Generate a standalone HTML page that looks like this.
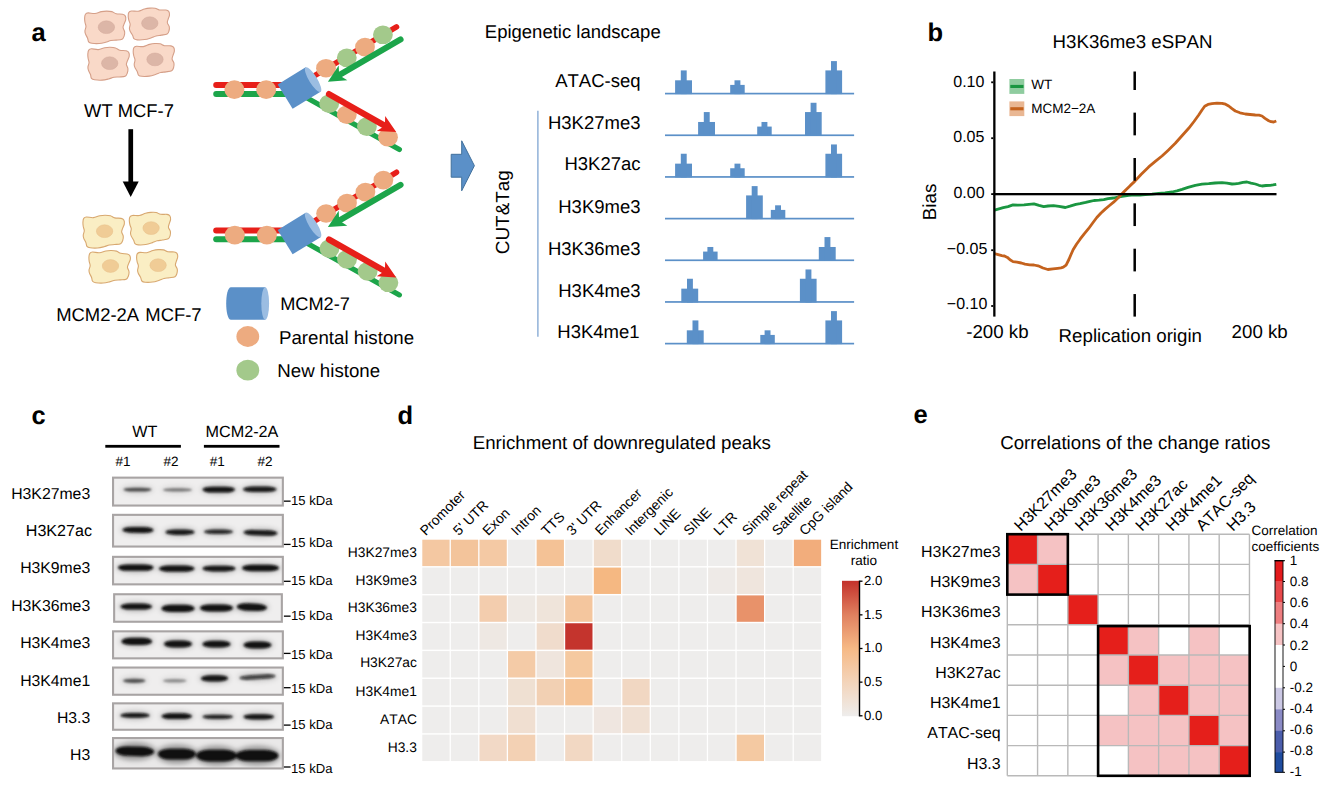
<!DOCTYPE html>
<html lang="en">
<head>
<meta charset="utf-8">
<title>Figure</title>
<style>
html,body{margin:0;padding:0;background:#fff;}
body{width:1323px;height:787px;overflow:hidden;font-family:"Liberation Sans",sans-serif;}
svg{display:block;}
svg text{font-family:"Liberation Sans",sans-serif;font-kerning:none;text-rendering:geometricPrecision;}
</style>
</head>
<body>
<svg width="1323" height="787" viewBox="0 0 1323 787">
<defs>
<filter id="bl" x="-5%" y="-50%" width="110%" height="200%"><feGaussianBlur stdDeviation="1.25"/></filter>
<filter id="bl2" x="-5%" y="-50%" width="110%" height="200%"><feGaussianBlur stdDeviation="2.6"/></filter>
<linearGradient id="gd" x1="0" y1="0" x2="0" y2="1">
<stop offset="0" stop-color="#c3312b"/>
<stop offset="0.25" stop-color="#e0805f"/>
<stop offset="0.5" stop-color="#f6b985"/>
<stop offset="0.75" stop-color="#f3d4ba"/>
<stop offset="1" stop-color="#eeedec"/>
</linearGradient>
<clipPath id="cl0"><rect x="113.9" y="478.50" width="168.1" height="26.20"/></clipPath>
<clipPath id="cl1"><rect x="113.9" y="515.70" width="168.1" height="30.00"/></clipPath>
<clipPath id="cl2"><rect x="113.9" y="557.70" width="168.1" height="25.80"/></clipPath>
<clipPath id="cl3"><rect x="113.9" y="595.10" width="168.1" height="25.80"/></clipPath>
<clipPath id="cl4"><rect x="113.9" y="632.20" width="168.1" height="25.30"/></clipPath>
<clipPath id="cl5"><rect x="113.9" y="668.40" width="168.1" height="25.50"/></clipPath>
<clipPath id="cl6"><rect x="113.9" y="704.20" width="168.1" height="24.70"/></clipPath>
<clipPath id="cl7"><rect x="113.9" y="738.90" width="168.1" height="28.70"/></clipPath>

</defs>
<rect width="1323" height="787" fill="#fff"/>
<g id="pa">
<text x="31.60" y="40.90" font-size="25.5" font-weight="bold" fill="#000">a</text>
<text x="927.40" y="40.90" font-size="25.5" font-weight="bold" fill="#000">b</text>
<text x="31.60" y="423.70" font-size="25.5" font-weight="bold" fill="#000">c</text>
<text x="397.50" y="423.60" font-size="25.5" font-weight="bold" fill="#000">d</text>
<text x="913.60" y="423.10" font-size="25.5" font-weight="bold" fill="#000">e</text>
<path d="M85.45,14.26C86.03,13.42 86.55,13.03 88.13,12.91C89.72,12.79 92.75,13.75 94.95,13.54C97.15,13.32 99.41,12.03 101.36,11.63C103.30,11.22 104.89,11.10 106.64,11.10C108.40,11.10 110.30,11.19 111.89,11.63C113.48,12.07 114.41,13.30 116.19,13.74C117.97,14.18 121.05,13.91 122.55,14.26C124.06,14.62 124.67,14.99 125.20,15.88C125.73,16.77 125.92,18.27 125.74,19.60C125.56,20.93 124.57,22.52 124.12,23.85C123.68,25.18 122.96,26.25 123.05,27.57C123.14,28.90 124.48,30.41 124.66,31.82C124.84,33.24 124.57,34.83 124.12,36.08C123.68,37.32 123.34,38.60 122.02,39.27C120.69,39.94 118.04,39.89 116.19,40.09C114.34,40.30 112.66,40.17 110.90,40.52C109.14,40.88 107.55,41.74 105.61,42.24C103.67,42.74 101.55,43.35 99.25,43.52C96.95,43.70 93.58,43.56 91.81,43.29C90.04,43.02 89.33,42.76 88.63,41.91C87.93,41.06 88.12,39.51 87.59,38.18C87.06,36.85 85.89,35.17 85.45,33.93C85.00,32.69 84.86,31.98 84.95,30.74C85.04,29.50 85.98,27.90 85.98,26.49C85.98,25.07 85.18,23.65 84.95,22.24C84.72,20.82 84.54,19.32 84.62,17.99C84.70,16.66 84.86,15.11 85.45,14.26Z" fill="#f9d9c8" stroke="#d59f88" stroke-width="1.1" stroke-linejoin="round"/>
<ellipse cx="106.4" cy="27.2" rx="8.2" ry="6.4" fill="#dcb6a7" stroke="#d3a99a" stroke-width="0.5"/>
<path d="M128.77,12.53C129.30,11.68 129.79,11.28 131.36,11.06C132.94,10.84 136.04,11.55 138.23,11.20C140.43,10.85 142.59,9.46 144.52,8.95C146.44,8.43 148.02,8.21 149.77,8.09C151.53,7.97 153.44,7.93 155.07,8.24C156.69,8.55 157.71,9.67 159.52,9.97C161.33,10.27 164.40,9.80 165.93,10.04C167.45,10.28 168.09,10.59 168.69,11.41C169.28,12.22 169.57,13.65 169.49,14.93C169.40,16.21 168.52,17.80 168.17,19.10C167.81,20.40 167.17,21.46 167.35,22.73C167.53,23.99 168.98,25.34 169.26,26.68C169.54,28.02 169.38,29.56 169.02,30.78C168.67,31.99 168.41,33.24 167.13,33.97C165.86,34.70 163.20,34.83 161.36,35.15C159.52,35.47 157.83,35.46 156.09,35.91C154.35,36.37 152.82,37.30 150.91,37.91C149.00,38.51 146.92,39.24 144.63,39.56C142.34,39.88 138.96,39.98 137.17,39.84C135.38,39.70 134.65,39.50 133.88,38.73C133.12,37.96 133.21,36.48 132.59,35.24C131.97,34.01 130.67,32.48 130.14,31.32C129.61,30.17 129.42,29.50 129.42,28.30C129.42,27.11 130.26,25.53 130.16,24.17C130.06,22.82 129.15,21.52 128.83,20.18C128.50,18.84 128.21,17.42 128.20,16.14C128.19,14.87 128.24,13.38 128.77,12.53Z" fill="#f9d9c8" stroke="#d59f88" stroke-width="1.1" stroke-linejoin="round"/>
<ellipse cx="149.8" cy="23.2" rx="8.2" ry="6.4" fill="#dcb6a7" stroke="#d3a99a" stroke-width="0.5"/>
<path d="M88.73,50.15C89.34,49.30 89.86,48.91 91.46,48.82C93.06,48.72 96.09,49.76 98.32,49.58C100.54,49.40 102.83,48.13 104.80,47.75C106.77,47.37 108.37,47.27 110.14,47.31C111.91,47.34 113.82,47.46 115.41,47.94C117.01,48.41 117.92,49.68 119.70,50.16C121.49,50.64 124.60,50.42 126.10,50.81C127.61,51.20 128.22,51.58 128.74,52.50C129.26,53.41 129.42,54.94 129.21,56.29C129.01,57.64 127.99,59.24 127.52,60.59C127.04,61.93 126.30,63.00 126.37,64.36C126.44,65.71 127.76,67.27 127.92,68.71C128.07,70.15 127.77,71.77 127.30,73.02C126.84,74.28 126.47,75.58 125.12,76.24C123.78,76.90 121.11,76.79 119.24,76.97C117.37,77.15 115.69,76.98 113.91,77.31C112.13,77.65 110.52,78.49 108.55,78.96C106.59,79.44 104.44,80.02 102.12,80.16C99.80,80.29 96.41,80.09 94.63,79.79C92.85,79.48 92.14,79.20 91.45,78.32C90.76,77.45 90.99,75.88 90.48,74.52C89.97,73.16 88.81,71.43 88.39,70.16C87.96,68.89 87.83,68.16 87.94,66.90C88.06,65.64 89.03,64.03 89.06,62.59C89.08,61.15 88.30,59.69 88.09,58.25C87.89,56.80 87.73,55.27 87.83,53.92C87.94,52.57 88.13,51.00 88.73,50.15Z" fill="#f9d9c8" stroke="#d59f88" stroke-width="1.1" stroke-linejoin="round"/>
<ellipse cx="109.7" cy="63.2" rx="8.2" ry="6.4" fill="#dcb6a7" stroke="#d3a99a" stroke-width="0.5"/>
<path d="M133.83,47.80C134.37,46.93 134.87,46.52 136.45,46.32C138.02,46.12 141.10,46.91 143.29,46.59C145.48,46.26 147.67,44.86 149.59,44.35C151.52,43.85 153.10,43.65 154.85,43.55C156.61,43.46 158.51,43.45 160.13,43.80C161.74,44.16 162.73,45.33 164.53,45.67C166.33,46.02 169.40,45.59 170.92,45.86C172.44,46.14 173.07,46.47 173.65,47.33C174.22,48.19 174.49,49.67 174.38,51.00C174.27,52.33 173.37,53.96 172.99,55.30C172.61,56.65 171.95,57.74 172.11,59.06C172.27,60.37 173.69,61.80 173.94,63.19C174.20,64.59 174.00,66.19 173.63,67.44C173.25,68.70 172.97,69.99 171.69,70.73C170.40,71.46 167.75,71.55 165.91,71.85C164.07,72.15 162.39,72.10 160.64,72.55C158.90,73.00 157.36,73.93 155.45,74.53C153.53,75.13 151.44,75.84 149.15,76.14C146.86,76.43 143.49,76.47 141.71,76.30C139.92,76.12 139.20,75.90 138.46,75.09C137.71,74.28 137.83,72.74 137.23,71.44C136.63,70.15 135.36,68.54 134.86,67.34C134.35,66.13 134.17,65.42 134.20,64.19C134.22,62.95 135.08,61.32 135.01,59.91C134.93,58.51 134.05,57.14 133.75,55.75C133.45,54.35 133.19,52.87 133.20,51.54C133.21,50.22 133.29,48.67 133.83,47.80Z" fill="#f9d9c8" stroke="#d59f88" stroke-width="1.1" stroke-linejoin="round"/>
<ellipse cx="155.0" cy="59.4" rx="8.2" ry="6.4" fill="#dcb6a7" stroke="#d3a99a" stroke-width="0.5"/>
<path d="M83.75,218.40C84.34,217.55 84.86,217.16 86.46,217.03C88.05,216.91 91.11,217.89 93.33,217.67C95.55,217.45 97.81,216.15 99.78,215.73C101.74,215.32 103.34,215.20 105.11,215.20C106.87,215.20 108.79,215.29 110.39,215.73C111.99,216.18 112.93,217.42 114.72,217.87C116.51,218.31 119.62,218.04 121.13,218.40C122.64,218.76 123.26,219.14 123.79,220.04C124.33,220.94 124.52,222.46 124.34,223.81C124.16,225.15 123.16,226.76 122.71,228.11C122.26,229.45 121.54,230.53 121.63,231.88C121.72,233.22 123.07,234.75 123.25,236.18C123.43,237.61 123.16,239.23 122.71,240.48C122.27,241.74 121.92,243.04 120.59,243.72C119.26,244.40 116.59,244.34 114.72,244.55C112.85,244.76 111.17,244.62 109.39,244.99C107.62,245.35 106.02,246.21 104.06,246.72C102.11,247.23 99.97,247.84 97.65,248.02C95.34,248.20 91.94,248.06 90.16,247.79C88.38,247.51 87.66,247.25 86.96,246.39C86.25,245.52 86.45,243.96 85.92,242.62C85.38,241.27 84.20,239.57 83.75,238.31C83.31,237.06 83.16,236.34 83.25,235.08C83.34,233.82 84.29,232.21 84.29,230.78C84.29,229.34 83.48,227.91 83.25,226.47C83.02,225.04 82.84,223.52 82.92,222.17C83.00,220.83 83.16,219.26 83.75,218.40Z" fill="#faeec4" stroke="#d8a870" stroke-width="1.1" stroke-linejoin="round"/>
<ellipse cx="104.6" cy="231.2" rx="8.2" ry="6.4" fill="#f0cc96" stroke="#e6bf88" stroke-width="0.5"/>
<path d="M129.87,216.93C130.40,216.06 130.89,215.65 132.46,215.43C134.04,215.20 137.14,215.93 139.33,215.57C141.53,215.21 143.69,213.80 145.62,213.27C147.54,212.74 149.12,212.51 150.87,212.39C152.63,212.27 154.54,212.22 156.17,212.54C157.79,212.86 158.81,214.00 160.62,214.31C162.43,214.62 165.50,214.14 167.03,214.39C168.55,214.63 169.19,214.95 169.79,215.78C170.38,216.62 170.67,218.07 170.59,219.38C170.50,220.69 169.62,222.31 169.27,223.64C168.91,224.97 168.27,226.06 168.45,227.35C168.63,228.64 170.08,230.02 170.36,231.39C170.64,232.76 170.48,234.34 170.12,235.58C169.77,236.82 169.51,238.10 168.23,238.84C166.96,239.59 164.30,239.72 162.46,240.05C160.62,240.38 158.93,240.36 157.19,240.83C155.45,241.30 153.92,242.24 152.01,242.86C150.10,243.48 148.02,244.22 145.73,244.55C143.44,244.88 140.06,244.98 138.27,244.84C136.48,244.70 135.75,244.49 134.98,243.70C134.22,242.92 134.31,241.40 133.69,240.14C133.07,238.88 131.77,237.32 131.24,236.14C130.71,234.95 130.52,234.27 130.52,233.05C130.52,231.83 131.36,230.21 131.26,228.83C131.16,227.45 130.25,226.12 129.93,224.75C129.60,223.38 129.31,221.92 129.30,220.62C129.29,219.32 129.34,217.80 129.87,216.93Z" fill="#faeec4" stroke="#d8a870" stroke-width="1.1" stroke-linejoin="round"/>
<ellipse cx="151.1" cy="228.1" rx="8.2" ry="6.4" fill="#f0cc96" stroke="#e6bf88" stroke-width="0.5"/>
<path d="M89.83,253.32C90.44,252.48 90.96,252.10 92.56,252.01C94.16,251.91 97.19,252.93 99.42,252.76C101.64,252.58 103.93,251.32 105.90,250.94C107.87,250.57 109.47,250.47 111.24,250.51C113.01,250.54 114.92,250.66 116.51,251.13C118.11,251.60 119.02,252.86 120.80,253.33C122.59,253.81 125.70,253.59 127.20,253.97C128.71,254.36 129.32,254.74 129.84,255.65C130.36,256.55 130.52,258.07 130.31,259.41C130.11,260.75 129.09,262.34 128.62,263.67C128.14,265.00 127.40,266.06 127.47,267.40C127.54,268.74 128.86,270.28 129.02,271.71C129.17,273.15 128.87,274.75 128.40,275.99C127.94,277.23 127.57,278.52 126.22,279.17C124.88,279.83 122.21,279.72 120.34,279.90C118.47,280.08 116.79,279.91 115.01,280.24C113.23,280.57 111.62,281.40 109.65,281.87C107.69,282.34 105.54,282.92 103.22,283.06C100.90,283.19 97.51,283.00 95.73,282.69C93.95,282.39 93.24,282.11 92.55,281.24C91.86,280.37 92.09,278.82 91.58,277.47C91.07,276.12 89.91,274.41 89.49,273.15C89.06,271.89 88.93,271.17 89.04,269.92C89.16,268.67 90.13,267.08 90.16,265.65C90.18,264.22 89.40,262.78 89.19,261.35C88.99,259.92 88.83,258.40 88.93,257.06C89.04,255.72 89.23,254.16 89.83,253.32Z" fill="#faeec4" stroke="#d8a870" stroke-width="1.1" stroke-linejoin="round"/>
<ellipse cx="110.5" cy="266.0" rx="8.2" ry="6.4" fill="#f0cc96" stroke="#e6bf88" stroke-width="0.5"/>
<path d="M137.23,253.88C137.77,253.01 138.26,252.60 139.84,252.40C141.41,252.20 144.48,252.99 146.67,252.67C148.85,252.34 151.03,250.95 152.95,250.45C154.88,249.95 156.45,249.74 158.20,249.65C159.95,249.56 161.85,249.55 163.46,249.90C165.07,250.25 166.06,251.42 167.86,251.76C169.65,252.10 172.71,251.68 174.23,251.95C175.74,252.22 176.37,252.56 176.95,253.41C177.52,254.26 177.79,255.73 177.68,257.05C177.57,258.37 176.67,260.00 176.29,261.33C175.92,262.67 175.26,263.76 175.42,265.06C175.57,266.37 176.99,267.79 177.24,269.17C177.50,270.56 177.30,272.15 176.93,273.40C176.55,274.65 176.28,275.93 174.99,276.66C173.71,277.39 171.06,277.47 169.23,277.78C167.39,278.08 165.72,278.03 163.98,278.47C162.24,278.92 160.70,279.85 158.79,280.44C156.88,281.03 154.80,281.75 152.52,282.04C150.23,282.33 146.87,282.37 145.09,282.20C143.31,282.02 142.59,281.80 141.84,281.00C141.10,280.19 141.22,278.66 140.62,277.37C140.02,276.09 138.76,274.49 138.25,273.29C137.75,272.09 137.57,271.39 137.59,270.16C137.62,268.93 138.48,267.31 138.40,265.91C138.33,264.51 137.45,263.16 137.15,261.77C136.85,260.38 136.59,258.91 136.60,257.59C136.61,256.28 136.69,254.74 137.23,253.88Z" fill="#faeec4" stroke="#d8a870" stroke-width="1.1" stroke-linejoin="round"/>
<ellipse cx="158.1" cy="265.2" rx="8.2" ry="6.4" fill="#f0cc96" stroke="#e6bf88" stroke-width="0.5"/>
<text x="129.00" y="116.50" font-size="18.4" text-anchor="middle" fill="#000">WT MCF-7</text>
<text x="56.20" y="321.10" font-size="18.45" fill="#000">MCM2-2A</text>
<text x="145.30" y="321.10" font-size="18.45" fill="#000">MCF-7</text>
<rect x="128.4" y="129.2" width="4.7" height="54" fill="#000"/>
<path d="M122.7,181.5L138.7,181.5L130.7,197Z" fill="#000"/>
<g transform="translate(0 0)">
<line x1="216.2" y1="85.0" x2="290" y2="85.0" stroke="#e71f19" stroke-width="6" stroke-linecap="round"/>
<line x1="216.2" y1="93.9" x2="290" y2="93.9" stroke="#1ca54a" stroke-width="6" stroke-linecap="round"/>
<ellipse cx="234.4" cy="89.7" rx="10" ry="9.4" fill="#edab80"/>
<ellipse cx="266.2" cy="89.7" rx="10" ry="9.4" fill="#edab80"/>
<line x1="305" y1="81.3" x2="396.5" y2="26.9" stroke="#e71f19" stroke-width="5.6" stroke-linecap="round"/>
<line x1="300" y1="93.9" x2="399.4" y2="149.5" stroke="#1ca54a" stroke-width="5.2" stroke-linecap="round"/>
<ellipse cx="329.2" cy="103.7" rx="9.9" ry="9.3" fill="#a3c98b"/>
<ellipse cx="346.8" cy="114.7" rx="9.9" ry="9.3" fill="#edab80"/>
<ellipse cx="366.9" cy="126.6" rx="9.9" ry="9.3" fill="#a3c98b"/>
<ellipse cx="388.0" cy="137.3" rx="9.9" ry="9.3" fill="#edab80"/>
<line x1="329.00" y1="94.10" x2="386.62" y2="126.69" stroke="#e71f19" stroke-width="6.2" stroke-linecap="round"/>
<path d="M396.20,132.10L385.20,116.00L384.88,125.70L376.73,130.97Z" fill="#e71f19"/>
<ellipse cx="326.0" cy="68.2" rx="9.9" ry="9.3" fill="#edab80"/>
<ellipse cx="346.8" cy="57.8" rx="9.9" ry="9.3" fill="#a3c98b"/>
<ellipse cx="365.0" cy="47.1" rx="9.9" ry="9.3" fill="#edab80"/>
<ellipse cx="382.9" cy="34.8" rx="9.9" ry="9.3" fill="#a3c98b"/>
<line x1="400.60" y1="39.40" x2="337.41" y2="76.17" stroke="#1ca54a" stroke-width="6.0" stroke-linecap="round"/>
<path d="M327.90,81.70L347.35,80.33L339.14,75.16L338.70,65.47Z" fill="#1ca54a"/>
<g transform="translate(299.3 88.0) rotate(-31.5)">
<path d="M-16.6,-14.3L16.2,-14.3L16.2,14.3L-16.6,14.3Z" fill="#5b90c8"/>
<ellipse cx="16.2" cy="0" rx="4.0" ry="14.3" fill="#9bbde2"/>
</g>
</g>
<g transform="translate(0 145.4)">
<line x1="216.2" y1="85.0" x2="290" y2="85.0" stroke="#e71f19" stroke-width="6" stroke-linecap="round"/>
<line x1="216.2" y1="93.9" x2="290" y2="93.9" stroke="#1ca54a" stroke-width="6" stroke-linecap="round"/>
<ellipse cx="234.8" cy="89.7" rx="10" ry="9.4" fill="#edab80"/>
<ellipse cx="266.9" cy="89.7" rx="10" ry="9.4" fill="#edab80"/>
<line x1="305" y1="81.3" x2="396.5" y2="26.9" stroke="#e71f19" stroke-width="5.6" stroke-linecap="round"/>
<line x1="300" y1="93.9" x2="399.4" y2="149.5" stroke="#1ca54a" stroke-width="5.2" stroke-linecap="round"/>
<ellipse cx="329.5" cy="103.2" rx="9.9" ry="9.3" fill="#a3c98b"/>
<ellipse cx="347.0" cy="114.0" rx="9.9" ry="9.3" fill="#a3c98b"/>
<ellipse cx="367.6" cy="126.0" rx="9.9" ry="9.3" fill="#a3c98b"/>
<ellipse cx="388.4" cy="137.4" rx="9.9" ry="9.3" fill="#a3c98b"/>
<line x1="329.00" y1="94.10" x2="386.62" y2="126.69" stroke="#e71f19" stroke-width="6.2" stroke-linecap="round"/>
<path d="M396.20,132.10L385.20,116.00L384.88,125.70L376.73,130.97Z" fill="#e71f19"/>
<ellipse cx="326.1" cy="68.1" rx="9.9" ry="9.3" fill="#edab80"/>
<ellipse cx="347.0" cy="57.7" rx="9.9" ry="9.3" fill="#edab80"/>
<ellipse cx="365.4" cy="46.7" rx="9.9" ry="9.3" fill="#edab80"/>
<ellipse cx="383.4" cy="34.7" rx="9.9" ry="9.3" fill="#edab80"/>
<line x1="400.60" y1="39.40" x2="337.41" y2="76.17" stroke="#1ca54a" stroke-width="6.0" stroke-linecap="round"/>
<path d="M327.90,81.70L347.35,80.33L339.14,75.16L338.70,65.47Z" fill="#1ca54a"/>
<g transform="translate(299.3 88.0) rotate(-31.5)">
<path d="M-16.6,-14.3L16.2,-14.3L16.2,14.3L-16.6,14.3Z" fill="#5b90c8"/>
<ellipse cx="16.2" cy="0" rx="4.0" ry="14.3" fill="#9bbde2"/>
</g>
</g>
<path d="M231,287.2L265.2,287.2L265.2,319.8L231,319.8C224.6,319.8 224.6,287.2 231,287.2Z" fill="#5b90c8"/>
<ellipse cx="265.2" cy="303.5" rx="3.9" ry="16.3" fill="#9bbde2"/>
<ellipse cx="247.8" cy="336.5" rx="11.4" ry="10.4" fill="#edab80"/>
<ellipse cx="247.8" cy="370.2" rx="11.4" ry="10.4" fill="#a3c98b"/>
<text x="280.20" y="309.80" font-size="18.2" fill="#000">MCM2-7</text>
<text x="279.00" y="343.50" font-size="18.7" fill="#000">Parental histone</text>
<text x="277.30" y="376.90" font-size="18.7" fill="#000">New histone</text>
<path d="M451.2,154.3L461.7,154.3L461.7,140.8L474.4,165.7L461.7,190.8L461.7,177.2L451.2,177.2Z" fill="#5b90c8" stroke="#41709c" stroke-width="1"/>
<text x="484.80" y="37.60" font-size="18.5" fill="#000">Epigenetic landscape</text>
<text x="640.50" y="86.80" font-size="18.5" text-anchor="end" fill="#000">ATAC-seq</text>
<text x="640.50" y="128.70" font-size="18.5" text-anchor="end" fill="#000">H3K27me3</text>
<text x="640.50" y="170.30" font-size="18.5" text-anchor="end" fill="#000">H3K27ac</text>
<text x="640.50" y="212.90" font-size="18.5" text-anchor="end" fill="#000">H3K9me3</text>
<text x="640.50" y="255.10" font-size="18.5" text-anchor="end" fill="#000">H3K36me3</text>
<text x="640.50" y="296.90" font-size="18.5" text-anchor="end" fill="#000">H3K4me3</text>
<text x="639.60" y="337.80" font-size="18.5" text-anchor="end" fill="#000">H3K4me1</text>
<text x="509.20" y="212.20" font-size="18.9" text-anchor="middle" transform="rotate(-90 509.20 212.20)" fill="#000">CUT&amp;Tag</text>
<line x1="537.9" y1="110.8" x2="537.9" y2="336.8" stroke="#7fa5d2" stroke-width="1.3"/>
<rect x="665" y="92.75" width="189.1" height="1.7" fill="#5b90c8"/>
<rect x="675.10" y="80.30" width="16.9" height="13.80" fill="#5b90c8"/>
<rect x="680.80" y="70.40" width="5.9" height="23.70" fill="#5b90c8"/>
<rect x="730.20" y="84.90" width="14.5" height="9.20" fill="#5b90c8"/>
<rect x="734.50" y="80.30" width="5.9" height="13.80" fill="#5b90c8"/>
<rect x="825.40" y="70.40" width="16.7" height="23.70" fill="#5b90c8"/>
<rect x="831.00" y="61.10" width="5.9" height="33.00" fill="#5b90c8"/>
<rect x="665" y="134.42" width="189.1" height="1.7" fill="#5b90c8"/>
<rect x="698.10" y="121.97" width="16.9" height="13.80" fill="#5b90c8"/>
<rect x="703.80" y="112.07" width="5.9" height="23.70" fill="#5b90c8"/>
<rect x="757.20" y="126.57" width="14.5" height="9.20" fill="#5b90c8"/>
<rect x="761.50" y="121.97" width="5.9" height="13.80" fill="#5b90c8"/>
<rect x="805.00" y="112.07" width="16.7" height="23.70" fill="#5b90c8"/>
<rect x="810.60" y="102.77" width="5.9" height="33.00" fill="#5b90c8"/>
<rect x="665" y="176.09" width="189.1" height="1.7" fill="#5b90c8"/>
<rect x="675.10" y="163.64" width="16.9" height="13.80" fill="#5b90c8"/>
<rect x="680.80" y="153.74" width="5.9" height="23.70" fill="#5b90c8"/>
<rect x="730.20" y="168.24" width="14.5" height="9.20" fill="#5b90c8"/>
<rect x="734.50" y="163.64" width="5.9" height="13.80" fill="#5b90c8"/>
<rect x="825.40" y="153.74" width="16.7" height="23.70" fill="#5b90c8"/>
<rect x="831.00" y="144.44" width="5.9" height="33.00" fill="#5b90c8"/>
<rect x="665" y="217.76" width="189.1" height="1.7" fill="#5b90c8"/>
<rect x="746.10" y="195.41" width="16.7" height="23.70" fill="#5b90c8"/>
<rect x="751.70" y="186.11" width="5.9" height="33.00" fill="#5b90c8"/>
<rect x="770.80" y="209.91" width="14.5" height="9.20" fill="#5b90c8"/>
<rect x="775.10" y="205.31" width="5.9" height="13.80" fill="#5b90c8"/>
<rect x="665" y="259.43" width="189.1" height="1.7" fill="#5b90c8"/>
<rect x="703.10" y="251.58" width="14.5" height="9.20" fill="#5b90c8"/>
<rect x="707.40" y="246.98" width="5.9" height="13.80" fill="#5b90c8"/>
<rect x="818.80" y="246.98" width="16.9" height="13.80" fill="#5b90c8"/>
<rect x="824.50" y="237.08" width="5.9" height="23.70" fill="#5b90c8"/>
<rect x="665" y="301.10" width="189.1" height="1.7" fill="#5b90c8"/>
<rect x="681.30" y="288.65" width="16.9" height="13.80" fill="#5b90c8"/>
<rect x="687.00" y="278.75" width="5.9" height="23.70" fill="#5b90c8"/>
<rect x="799.90" y="278.75" width="16.7" height="23.70" fill="#5b90c8"/>
<rect x="805.50" y="269.45" width="5.9" height="33.00" fill="#5b90c8"/>
<rect x="665" y="342.77" width="189.1" height="1.7" fill="#5b90c8"/>
<rect x="686.80" y="330.32" width="16.9" height="13.80" fill="#5b90c8"/>
<rect x="692.50" y="320.42" width="5.9" height="23.70" fill="#5b90c8"/>
<rect x="760.30" y="334.92" width="14.5" height="9.20" fill="#5b90c8"/>
<rect x="764.60" y="330.32" width="5.9" height="13.80" fill="#5b90c8"/>
<rect x="825.40" y="320.42" width="16.7" height="23.70" fill="#5b90c8"/>
<rect x="831.00" y="311.12" width="5.9" height="33.00" fill="#5b90c8"/>
</g>
<g id="pb">
<text x="1132.60" y="48.00" font-size="18.7" text-anchor="middle" fill="#000">H3K36me3 eSPAN</text>
<rect x="1009.4" y="79.0" width="14.9" height="14.9" fill="#8fcc9f"/>
<rect x="1010.3" y="84.9" width="13.2" height="3.1" fill="#1a9641"/>
<rect x="1009.4" y="101.4" width="14.9" height="14.7" fill="#e9b793"/>
<rect x="1010.3" y="107.2" width="13.2" height="3.1" fill="#c4621d"/>
<text x="1031.20" y="88.60" font-size="13.5" fill="#000">WT</text>
<text x="1031.20" y="113.10" font-size="13.5" fill="#000">MCM2−2A</text>
<polyline points="994.5,210.2 995.5,209.8 1003.2,207.7 1008.0,206.6 1013.0,204.9 1018.0,205.2 1024.1,204.9 1029.0,204.3 1033.9,203.8 1039.0,205.4 1043.7,206.6 1048.0,206.0 1053.5,205.6 1059.0,206.4 1065.4,207.5 1070.0,206.2 1075.9,204.3 1080.0,203.7 1085.7,202.4 1090.0,201.3 1094.0,200.5 1099.0,200.2 1103.8,199.6 1108.0,198.6 1113.6,198.0 1118.0,197.0 1122.0,196.3 1128.7,195.3 1135.0,194.9 1140.0,195.1 1145.3,194.7 1152.0,194.2 1158.7,193.3 1165.0,192.9 1172.0,192.0 1177.0,190.8 1182.0,189.3 1188.0,187.3 1195.3,185.3 1202.0,184.2 1208.7,183.7 1215.0,183.0 1222.0,182.7 1227.0,183.2 1232.0,184.0 1235.0,183.8 1238.7,183.3 1243.0,182.4 1247.0,182.0 1251.0,183.1 1255.3,184.0 1259.0,185.3 1262.0,186.0 1266.0,185.5 1270.3,185.3 1273.0,184.9 1276.3,184.3" fill="none" stroke="#1a9641" stroke-width="2.8" stroke-linejoin="round"/>
<polyline points="994.5,253.6 995.5,253.9 1001.8,255.6 1004.5,256.0 1007.4,257.4 1010.0,259.8 1013.0,261.6 1017.0,262.2 1021.3,263.0 1025.0,264.1 1029.7,264.8 1034.0,265.0 1038.1,265.8 1043.0,268.0 1047.9,269.5 1053.0,268.9 1057.7,268.3 1061.0,267.9 1063.3,267.2 1066.1,265.1 1068.9,259.5 1071.0,254.5 1073.1,249.7 1076.5,244.2 1080.1,239.2 1084.0,234.2 1088.5,228.7 1092.5,223.2 1096.8,217.5 1101.0,213.0 1105.2,209.1 1109.5,205.5 1113.6,202.2 1118.0,198.0 1122.0,193.8 1126.0,189.7 1130.4,185.4 1134.7,181.4 1141.0,174.5 1148.7,166.9 1155.0,161.7 1162.0,156.0 1168.0,150.4 1175.3,143.3 1182.0,135.8 1188.7,128.3 1194.0,121.5 1198.7,115.0 1202.0,110.0 1204.7,106.2 1208.0,104.4 1212.0,103.7 1217.0,103.2 1222.0,103.3 1225.5,104.2 1228.7,106.0 1232.0,108.7 1235.3,111.0 1240.0,112.8 1245.3,114.0 1250.0,114.5 1255.3,115.0 1259.0,115.2 1262.0,116.0 1265.0,118.4 1268.7,120.7 1271.0,121.7 1273.7,122.0 1276.3,121.0" fill="none" stroke="#c4621d" stroke-width="2.8" stroke-linejoin="round"/>
<rect x="993.2" y="71.5" width="2.3" height="245.1" fill="#000"/>
<rect x="993.2" y="193.0" width="283.3" height="2.3" fill="#000"/>
<rect x="991.2" y="81.40" width="2" height="1.8" fill="#000"/>
<text x="984.40" y="86.90" font-size="16" text-anchor="end" fill="#000">0.10</text>
<rect x="991.2" y="137.30" width="2" height="1.8" fill="#000"/>
<text x="984.40" y="141.70" font-size="16" text-anchor="end" fill="#000">0.05</text>
<rect x="991.2" y="193.20" width="2" height="1.8" fill="#000"/>
<text x="984.60" y="197.50" font-size="16" text-anchor="end" fill="#000">0.00</text>
<rect x="991.2" y="249.30" width="2" height="1.8" fill="#000"/>
<text x="987.30" y="254.00" font-size="16" text-anchor="end" fill="#000">−0.05</text>
<rect x="991.2" y="305.10" width="2" height="1.8" fill="#000"/>
<text x="987.30" y="309.20" font-size="16" text-anchor="end" fill="#000">−0.10</text>
<rect x="1133.45" y="71.50" width="2.5" height="18.50" fill="#000"/>
<rect x="1133.45" y="112.65" width="2.5" height="22.70" fill="#000"/>
<rect x="1133.45" y="158.00" width="2.5" height="22.70" fill="#000"/>
<rect x="1133.45" y="203.35" width="2.5" height="22.70" fill="#000"/>
<rect x="1133.45" y="248.70" width="2.5" height="22.70" fill="#000"/>
<rect x="1133.45" y="294.05" width="2.5" height="22.55" fill="#000"/>
<text x="935.60" y="201.90" font-size="18.9" text-anchor="middle" transform="rotate(-90 935.60 201.90)" fill="#000">Bias</text>
<text x="966.20" y="337.80" font-size="18.7" fill="#000">-200 kb</text>
<text x="1058.60" y="342.10" font-size="18.7" fill="#000">Replication origin</text>
<text x="1231.60" y="337.80" font-size="18.7" fill="#000">200 kb</text>
</g>
<g id="pc">
<text x="144.80" y="436.80" font-size="16.2" text-anchor="middle" fill="#000">WT</text>
<text x="242.00" y="436.80" font-size="16.2" text-anchor="middle" fill="#000">MCM2-2A</text>
<rect x="105.3" y="444.9" width="75.6" height="2.8" fill="#000"/>
<rect x="203.9" y="444.9" width="75.6" height="2.8" fill="#000"/>
<text x="123.00" y="465.80" font-size="13.5" text-anchor="middle" fill="#000">#1</text>
<text x="171.00" y="465.80" font-size="13.5" text-anchor="middle" fill="#000">#2</text>
<text x="217.30" y="465.80" font-size="13.5" text-anchor="middle" fill="#000">#1</text>
<text x="265.00" y="465.80" font-size="13.5" text-anchor="middle" fill="#000">#2</text>
<rect x="113.05" y="477.65" width="169.80" height="27.90" fill="#efeeee" stroke="#a8a4a4" stroke-width="2.1"/>
<g clip-path="url(#cl0)">
<g filter="url(#bl2)">
<ellipse cx="137.5" cy="489.6" rx="16.0" ry="4.30" fill="#000" opacity="0.14"/>
<ellipse cx="177.5" cy="489.8" rx="16.5" ry="4.10" fill="#000" opacity="0.10"/>
<ellipse cx="218.8" cy="489.6" rx="18.2" ry="5.30" fill="#000" opacity="0.21"/>
<ellipse cx="259.8" cy="489.3" rx="18.8" ry="5.10" fill="#000" opacity="0.20"/>
</g>
<g filter="url(#bl)">
<rect x="123.5" y="487.73" width="28.0" height="3.74" rx="10.0" ry="1.87" fill="#0a0a0a" opacity="0.62"/>
<rect x="163.0" y="488.14" width="29.0" height="3.33" rx="10.0" ry="1.66" fill="#0a0a0a" opacity="0.45"/>
<rect x="202.5" y="486.69" width="32.5" height="5.82" rx="10.0" ry="2.91" fill="#0a0a0a" opacity="0.95"/>
<rect x="243.0" y="486.60" width="33.5" height="5.41" rx="10.0" ry="2.70" fill="#0a0a0a" opacity="0.92"/>
</g>
</g>
<text x="90.20" y="498.50" font-size="15.8" text-anchor="end" fill="#000">H3K27me3</text>
<rect x="283.9" y="500.50" width="6.7" height="1.3" fill="#000"/>
<text x="291.00" y="504.60" font-size="13.1" fill="#000">15 kDa</text>
<rect x="113.05" y="514.85" width="169.80" height="31.70" fill="#efeeee" stroke="#a8a4a4" stroke-width="2.1"/>
<g clip-path="url(#cl1)">
<g filter="url(#bl2)">
<ellipse cx="138.0" cy="529.9" rx="17.5" ry="5.30" fill="#000" opacity="0.21"/>
<ellipse cx="180.0" cy="532.2" rx="16.5" ry="5.10" fill="#000" opacity="0.20"/>
<ellipse cx="218.5" cy="531.7" rx="16.5" ry="4.60" fill="#000" opacity="0.19"/>
<ellipse cx="260.5" cy="532.8" rx="19.0" ry="5.10" fill="#000" opacity="0.20"/>
</g>
<g filter="url(#bl)">
<rect x="122.5" y="526.99" width="31.0" height="5.82" rx="10.0" ry="2.91" fill="#0a0a0a" opacity="0.95" transform="rotate(0.9 138.0 529.9)"/>
<rect x="165.5" y="529.50" width="29.0" height="5.41" rx="10.0" ry="2.70" fill="#0a0a0a" opacity="0.92"/>
<rect x="204.0" y="529.52" width="29.0" height="4.37" rx="10.0" ry="2.18" fill="#0a0a0a" opacity="0.85"/>
<rect x="243.5" y="530.10" width="34.0" height="5.41" rx="10.0" ry="2.70" fill="#0a0a0a" opacity="0.92" transform="rotate(1.8 260.5 532.8)"/>
</g>
</g>
<text x="92.00" y="535.90" font-size="16.1" text-anchor="end" fill="#000">H3K27ac</text>
<rect x="283.9" y="543.75" width="6.7" height="1.3" fill="#000"/>
<text x="291.00" y="546.60" font-size="13.1" fill="#000">15 kDa</text>
<rect x="113.05" y="556.85" width="169.80" height="27.50" fill="#efeeee" stroke="#a8a4a4" stroke-width="2.1"/>
<g clip-path="url(#cl2)">
<g filter="url(#bl2)">
<ellipse cx="135.8" cy="567.6" rx="19.8" ry="5.60" fill="#000" opacity="0.21"/>
<ellipse cx="176.8" cy="568.6" rx="19.8" ry="5.50" fill="#000" opacity="0.21"/>
<ellipse cx="219.0" cy="568.6" rx="18.5" ry="5.20" fill="#000" opacity="0.21"/>
<ellipse cx="260.5" cy="568.0" rx="20.5" ry="5.60" fill="#000" opacity="0.21"/>
</g>
<g filter="url(#bl)">
<rect x="118.0" y="564.38" width="35.5" height="6.45" rx="10.0" ry="3.22" fill="#0a0a0a" opacity="0.97"/>
<rect x="159.0" y="565.48" width="35.5" height="6.24" rx="10.0" ry="3.12" fill="#0a0a0a" opacity="0.96"/>
<rect x="202.5" y="565.79" width="33.0" height="5.62" rx="10.0" ry="2.81" fill="#0a0a0a" opacity="0.94"/>
<rect x="242.0" y="564.78" width="37.0" height="6.45" rx="10.0" ry="3.22" fill="#0a0a0a" opacity="0.97"/>
</g>
</g>
<text x="90.20" y="572.90" font-size="15.75" text-anchor="end" fill="#000">H3K9me3</text>
<rect x="283.9" y="580.65" width="6.7" height="1.3" fill="#000"/>
<text x="291.00" y="584.50" font-size="13.1" fill="#000">15 kDa</text>
<rect x="114.14999999999999" y="594.25" width="167.70" height="27.50" fill="#efeeee" stroke="#a8a4a4" stroke-width="2.1"/>
<g clip-path="url(#cl3)">
<g filter="url(#bl2)">
<ellipse cx="136.2" cy="606.6" rx="17.8" ry="5.40" fill="#000" opacity="0.21"/>
<ellipse cx="178.0" cy="608.4" rx="18.5" ry="6.00" fill="#000" opacity="0.21"/>
<ellipse cx="216.5" cy="608.0" rx="18.5" ry="5.80" fill="#000" opacity="0.21"/>
<ellipse cx="252.0" cy="607.2" rx="17.0" ry="6.00" fill="#000" opacity="0.21"/>
</g>
<g filter="url(#bl)">
<rect x="120.5" y="603.58" width="31.5" height="6.03" rx="10.0" ry="3.02" fill="#0a0a0a" opacity="0.96"/>
<rect x="161.5" y="604.76" width="33.0" height="7.28" rx="10.0" ry="3.64" fill="#0a0a0a" opacity="0.97"/>
<rect x="200.0" y="604.57" width="33.0" height="6.86" rx="10.0" ry="3.43" fill="#0a0a0a" opacity="0.97"/>
<rect x="237.0" y="603.56" width="30.0" height="7.28" rx="10.0" ry="3.64" fill="#0a0a0a" opacity="0.97" transform="rotate(2.4 252.0 607.2)"/>
</g>
</g>
<text x="90.20" y="610.60" font-size="15.8" text-anchor="end" fill="#000">H3K36me3</text>
<rect x="283.9" y="615.50" width="6.7" height="1.3" fill="#000"/>
<text x="291.00" y="619.60" font-size="13.1" fill="#000">15 kDa</text>
<rect x="113.05" y="631.35" width="169.80" height="27.00" fill="#efeeee" stroke="#a8a4a4" stroke-width="2.1"/>
<g clip-path="url(#cl4)">
<g filter="url(#bl2)">
<ellipse cx="136.8" cy="641.4" rx="17.2" ry="6.00" fill="#000" opacity="0.21"/>
<ellipse cx="178.0" cy="644.0" rx="16.0" ry="5.80" fill="#000" opacity="0.21"/>
<ellipse cx="216.5" cy="644.2" rx="16.0" ry="5.70" fill="#000" opacity="0.21"/>
<ellipse cx="257.5" cy="645.0" rx="16.0" ry="5.90" fill="#000" opacity="0.21"/>
</g>
<g filter="url(#bl)">
<rect x="121.5" y="637.76" width="30.5" height="7.28" rx="10.0" ry="3.64" fill="#0a0a0a" opacity="0.97"/>
<rect x="164.0" y="640.57" width="28.0" height="6.86" rx="10.0" ry="3.43" fill="#0a0a0a" opacity="0.96"/>
<rect x="202.5" y="640.87" width="28.0" height="6.66" rx="10.0" ry="3.33" fill="#0a0a0a" opacity="0.96"/>
<rect x="243.5" y="641.46" width="28.0" height="7.07" rx="10.0" ry="3.54" fill="#0a0a0a" opacity="0.97"/>
</g>
</g>
<text x="90.20" y="647.60" font-size="15.75" text-anchor="end" fill="#000">H3K4me3</text>
<rect x="283.9" y="652.75" width="6.7" height="1.3" fill="#000"/>
<text x="291.00" y="658.50" font-size="13.1" fill="#000">15 kDa</text>
<rect x="113.05" y="667.55" width="169.80" height="27.20" fill="#efeeee" stroke="#a8a4a4" stroke-width="2.1"/>
<g clip-path="url(#cl5)">
<g filter="url(#bl2)">
<ellipse cx="134.2" cy="680.8" rx="13.2" ry="4.50" fill="#000" opacity="0.13"/>
<ellipse cx="174.8" cy="680.8" rx="13.8" ry="4.20" fill="#000" opacity="0.08"/>
<ellipse cx="214.5" cy="678.4" rx="15.5" ry="5.50" fill="#000" opacity="0.21"/>
<ellipse cx="257.5" cy="677.0" rx="20.0" ry="4.70" fill="#000" opacity="0.16"/>
</g>
<g filter="url(#bl)">
<rect x="123.0" y="678.72" width="22.5" height="4.16" rx="10.0" ry="2.08" fill="#0a0a0a" opacity="0.6"/>
<rect x="163.0" y="679.03" width="23.5" height="3.54" rx="10.0" ry="1.77" fill="#0a0a0a" opacity="0.36"/>
<rect x="201.0" y="675.28" width="27.0" height="6.24" rx="10.0" ry="3.12" fill="#0a0a0a" opacity="0.95" transform="rotate(-0.9 214.5 678.4)"/>
<rect x="239.5" y="674.71" width="36.0" height="4.58" rx="10.0" ry="2.29" fill="#0a0a0a" opacity="0.72" transform="rotate(-3.6 257.5 677.0)"/>
</g>
</g>
<text x="90.20" y="686.20" font-size="15.75" text-anchor="end" fill="#000">H3K4me1</text>
<rect x="283.9" y="687.05" width="6.7" height="1.3" fill="#000"/>
<text x="291.00" y="692.60" font-size="13.1" fill="#000">15 kDa</text>
<rect x="113.05" y="703.35" width="169.80" height="26.40" fill="#efeeee" stroke="#a8a4a4" stroke-width="2.1"/>
<g clip-path="url(#cl6)">
<g filter="url(#bl2)">
<ellipse cx="135.0" cy="715.4" rx="16.5" ry="4.80" fill="#000" opacity="0.20"/>
<ellipse cx="176.8" cy="716.2" rx="17.2" ry="5.30" fill="#000" opacity="0.21"/>
<ellipse cx="217.8" cy="716.8" rx="17.2" ry="4.50" fill="#000" opacity="0.19"/>
<ellipse cx="258.8" cy="716.8" rx="17.2" ry="5.00" fill="#000" opacity="0.21"/>
</g>
<g filter="url(#bl)">
<rect x="120.5" y="713.01" width="29.0" height="4.78" rx="10.0" ry="2.39" fill="#0a0a0a" opacity="0.93"/>
<rect x="161.5" y="713.29" width="30.5" height="5.82" rx="10.0" ry="2.91" fill="#0a0a0a" opacity="0.96"/>
<rect x="202.5" y="714.72" width="30.5" height="4.16" rx="10.0" ry="2.08" fill="#0a0a0a" opacity="0.88"/>
<rect x="243.5" y="714.20" width="30.5" height="5.20" rx="10.0" ry="2.60" fill="#0a0a0a" opacity="0.95"/>
</g>
</g>
<text x="90.20" y="722.70" font-size="15.75" text-anchor="end" fill="#000">H3.3</text>
<rect x="283.9" y="724.45" width="6.7" height="1.3" fill="#000"/>
<text x="291.00" y="729.20" font-size="13.1" fill="#000">15 kDa</text>
<rect x="113.05" y="738.05" width="169.80" height="30.40" fill="#e9e8e8" stroke="#a8a4a4" stroke-width="2.1"/>
<g clip-path="url(#cl7)">
<g filter="url(#bl2)">
<ellipse cx="134.8" cy="751.3" rx="21.2" ry="9.00" fill="#000" opacity="0.35"/>
<ellipse cx="176.8" cy="754.1" rx="20.8" ry="9.70" fill="#000" opacity="0.35"/>
<ellipse cx="216.6" cy="755.6" rx="22.2" ry="10.10" fill="#000" opacity="0.35"/>
<ellipse cx="257.1" cy="755.7" rx="23.2" ry="9.90" fill="#000" opacity="0.35"/>
</g>
<g filter="url(#bl)">
<rect x="115.6" y="746.62" width="38.4" height="9.36" rx="12.3" ry="4.68" fill="#0a0a0a" opacity="0.98" transform="rotate(1.5 134.8 751.3)"/>
<rect x="158.0" y="748.69" width="37.7" height="10.82" rx="12.1" ry="5.41" fill="#0a0a0a" opacity="0.98"/>
<rect x="196.3" y="749.78" width="40.5" height="11.65" rx="13.0" ry="5.82" fill="#0a0a0a" opacity="0.98"/>
<rect x="235.8" y="750.08" width="42.5" height="11.23" rx="13.6" ry="5.62" fill="#0a0a0a" opacity="0.98"/>
</g>
</g>
<text x="90.20" y="759.70" font-size="15.75" text-anchor="end" fill="#000">H3</text>
<rect x="283.9" y="766.35" width="6.7" height="1.3" fill="#000"/>
<text x="291.00" y="772.70" font-size="13.1" fill="#000">15 kDa</text>
</g>
<g id="pd">
<text x="621.80" y="449.20" font-size="18.7" text-anchor="middle" fill="#000">Enrichment of downregulated peaks</text>
<rect x="422.30" y="539.70" width="27.3" height="26.4" fill="#f4c8a2"/>
<rect x="450.88" y="539.70" width="27.3" height="26.4" fill="#f3c49b"/>
<rect x="479.46" y="539.70" width="27.3" height="26.4" fill="#f4c9a4"/>
<rect x="508.04" y="539.70" width="27.3" height="26.4" fill="#eeedec"/>
<rect x="536.62" y="539.70" width="27.3" height="26.4" fill="#f4c296"/>
<rect x="565.20" y="539.70" width="27.3" height="26.4" fill="#eeedec"/>
<rect x="593.78" y="539.70" width="27.3" height="26.4" fill="#f0dccb"/>
<rect x="622.36" y="539.70" width="27.3" height="26.4" fill="#eeedec"/>
<rect x="650.94" y="539.70" width="27.3" height="26.4" fill="#eeedec"/>
<rect x="679.52" y="539.70" width="27.3" height="26.4" fill="#eeedec"/>
<rect x="708.10" y="539.70" width="27.3" height="26.4" fill="#eeedec"/>
<rect x="736.68" y="539.70" width="27.3" height="26.4" fill="#f0e2d6"/>
<rect x="765.26" y="539.70" width="27.3" height="26.4" fill="#eeedec"/>
<rect x="793.84" y="539.70" width="27.3" height="26.4" fill="#f2ad7c"/>
<text x="416.90" y="556.70" font-size="13.8" text-anchor="end" fill="#000">H3K27me3</text>
<rect x="422.30" y="567.55" width="27.3" height="26.4" fill="#eeedec"/>
<rect x="450.88" y="567.55" width="27.3" height="26.4" fill="#eeedec"/>
<rect x="479.46" y="567.55" width="27.3" height="26.4" fill="#eeedec"/>
<rect x="508.04" y="567.55" width="27.3" height="26.4" fill="#eeedec"/>
<rect x="536.62" y="567.55" width="27.3" height="26.4" fill="#eeedec"/>
<rect x="565.20" y="567.55" width="27.3" height="26.4" fill="#eeedec"/>
<rect x="593.78" y="567.55" width="27.3" height="26.4" fill="#f5b882"/>
<rect x="622.36" y="567.55" width="27.3" height="26.4" fill="#eeedec"/>
<rect x="650.94" y="567.55" width="27.3" height="26.4" fill="#eeedec"/>
<rect x="679.52" y="567.55" width="27.3" height="26.4" fill="#eeedec"/>
<rect x="708.10" y="567.55" width="27.3" height="26.4" fill="#eeeae7"/>
<rect x="736.68" y="567.55" width="27.3" height="26.4" fill="#efe5dd"/>
<rect x="765.26" y="567.55" width="27.3" height="26.4" fill="#eeedec"/>
<rect x="793.84" y="567.55" width="27.3" height="26.4" fill="#eeedec"/>
<text x="416.90" y="585.00" font-size="13.8" text-anchor="end" fill="#000">H3K9me3</text>
<rect x="422.30" y="595.40" width="27.3" height="26.4" fill="#eeedec"/>
<rect x="450.88" y="595.40" width="27.3" height="26.4" fill="#eeedec"/>
<rect x="479.46" y="595.40" width="27.3" height="26.4" fill="#f3cdae"/>
<rect x="508.04" y="595.40" width="27.3" height="26.4" fill="#eee9e4"/>
<rect x="536.62" y="595.40" width="27.3" height="26.4" fill="#efe4da"/>
<rect x="565.20" y="595.40" width="27.3" height="26.4" fill="#f4c69e"/>
<rect x="593.78" y="595.40" width="27.3" height="26.4" fill="#eeedec"/>
<rect x="622.36" y="595.40" width="27.3" height="26.4" fill="#eeedec"/>
<rect x="650.94" y="595.40" width="27.3" height="26.4" fill="#eeedec"/>
<rect x="679.52" y="595.40" width="27.3" height="26.4" fill="#eeedec"/>
<rect x="708.10" y="595.40" width="27.3" height="26.4" fill="#eeedec"/>
<rect x="736.68" y="595.40" width="27.3" height="26.4" fill="#e8926a"/>
<rect x="765.26" y="595.40" width="27.3" height="26.4" fill="#eeedec"/>
<rect x="793.84" y="595.40" width="27.3" height="26.4" fill="#eeedec"/>
<text x="416.90" y="611.90" font-size="13.8" text-anchor="end" fill="#000">H3K36me3</text>
<rect x="422.30" y="623.25" width="27.3" height="26.4" fill="#eeedec"/>
<rect x="450.88" y="623.25" width="27.3" height="26.4" fill="#eeedec"/>
<rect x="479.46" y="623.25" width="27.3" height="26.4" fill="#eee8e3"/>
<rect x="508.04" y="623.25" width="27.3" height="26.4" fill="#eeedec"/>
<rect x="536.62" y="623.25" width="27.3" height="26.4" fill="#f0dccc"/>
<rect x="565.20" y="623.25" width="27.3" height="26.4" fill="#c4342d"/>
<rect x="593.78" y="623.25" width="27.3" height="26.4" fill="#eeedec"/>
<rect x="622.36" y="623.25" width="27.3" height="26.4" fill="#eeedec"/>
<rect x="650.94" y="623.25" width="27.3" height="26.4" fill="#eeedec"/>
<rect x="679.52" y="623.25" width="27.3" height="26.4" fill="#eeedec"/>
<rect x="708.10" y="623.25" width="27.3" height="26.4" fill="#eeedec"/>
<rect x="736.68" y="623.25" width="27.3" height="26.4" fill="#eeedec"/>
<rect x="765.26" y="623.25" width="27.3" height="26.4" fill="#eeedec"/>
<rect x="793.84" y="623.25" width="27.3" height="26.4" fill="#eeedec"/>
<text x="416.90" y="639.50" font-size="13.8" text-anchor="end" fill="#000">H3K4me3</text>
<rect x="422.30" y="651.10" width="27.3" height="26.4" fill="#eeedec"/>
<rect x="450.88" y="651.10" width="27.3" height="26.4" fill="#eeedec"/>
<rect x="479.46" y="651.10" width="27.3" height="26.4" fill="#eeedec"/>
<rect x="508.04" y="651.10" width="27.3" height="26.4" fill="#f4cba7"/>
<rect x="536.62" y="651.10" width="27.3" height="26.4" fill="#efe5dd"/>
<rect x="565.20" y="651.10" width="27.3" height="26.4" fill="#f5c9a0"/>
<rect x="593.78" y="651.10" width="27.3" height="26.4" fill="#eeedec"/>
<rect x="622.36" y="651.10" width="27.3" height="26.4" fill="#eeedec"/>
<rect x="650.94" y="651.10" width="27.3" height="26.4" fill="#eeedec"/>
<rect x="679.52" y="651.10" width="27.3" height="26.4" fill="#eeedec"/>
<rect x="708.10" y="651.10" width="27.3" height="26.4" fill="#eeedec"/>
<rect x="736.68" y="651.10" width="27.3" height="26.4" fill="#eeedec"/>
<rect x="765.26" y="651.10" width="27.3" height="26.4" fill="#eeedec"/>
<rect x="793.84" y="651.10" width="27.3" height="26.4" fill="#eeedec"/>
<text x="416.90" y="667.40" font-size="13.8" text-anchor="end" fill="#000">H3K27ac</text>
<rect x="422.30" y="678.95" width="27.3" height="26.4" fill="#eeedec"/>
<rect x="450.88" y="678.95" width="27.3" height="26.4" fill="#eeedec"/>
<rect x="479.46" y="678.95" width="27.3" height="26.4" fill="#eeedec"/>
<rect x="508.04" y="678.95" width="27.3" height="26.4" fill="#efe0d2"/>
<rect x="536.62" y="678.95" width="27.3" height="26.4" fill="#f2d0b3"/>
<rect x="565.20" y="678.95" width="27.3" height="26.4" fill="#f5c497"/>
<rect x="593.78" y="678.95" width="27.3" height="26.4" fill="#eeedec"/>
<rect x="622.36" y="678.95" width="27.3" height="26.4" fill="#f1d7c2"/>
<rect x="650.94" y="678.95" width="27.3" height="26.4" fill="#eeedec"/>
<rect x="679.52" y="678.95" width="27.3" height="26.4" fill="#eeedec"/>
<rect x="708.10" y="678.95" width="27.3" height="26.4" fill="#eeedec"/>
<rect x="736.68" y="678.95" width="27.3" height="26.4" fill="#eeedec"/>
<rect x="765.26" y="678.95" width="27.3" height="26.4" fill="#eeedec"/>
<rect x="793.84" y="678.95" width="27.3" height="26.4" fill="#eeedec"/>
<text x="416.90" y="695.70" font-size="13.8" text-anchor="end" fill="#000">H3K4me1</text>
<rect x="422.30" y="706.80" width="27.3" height="26.4" fill="#eeedec"/>
<rect x="450.88" y="706.80" width="27.3" height="26.4" fill="#eeedec"/>
<rect x="479.46" y="706.80" width="27.3" height="26.4" fill="#eeedec"/>
<rect x="508.04" y="706.80" width="27.3" height="26.4" fill="#f0dfd1"/>
<rect x="536.62" y="706.80" width="27.3" height="26.4" fill="#eeedec"/>
<rect x="565.20" y="706.80" width="27.3" height="26.4" fill="#eeedec"/>
<rect x="593.78" y="706.80" width="27.3" height="26.4" fill="#efe6e0"/>
<rect x="622.36" y="706.80" width="27.3" height="26.4" fill="#f0e0d3"/>
<rect x="650.94" y="706.80" width="27.3" height="26.4" fill="#eeedec"/>
<rect x="679.52" y="706.80" width="27.3" height="26.4" fill="#eeedec"/>
<rect x="708.10" y="706.80" width="27.3" height="26.4" fill="#eeedec"/>
<rect x="736.68" y="706.80" width="27.3" height="26.4" fill="#eeedec"/>
<rect x="765.26" y="706.80" width="27.3" height="26.4" fill="#eeedec"/>
<rect x="793.84" y="706.80" width="27.3" height="26.4" fill="#eeedec"/>
<text x="416.90" y="724.10" font-size="13.8" text-anchor="end" fill="#000">ATAC</text>
<rect x="422.30" y="734.65" width="27.3" height="26.4" fill="#eeedec"/>
<rect x="450.88" y="734.65" width="27.3" height="26.4" fill="#eeedec"/>
<rect x="479.46" y="734.65" width="27.3" height="26.4" fill="#f2d9c6"/>
<rect x="508.04" y="734.65" width="27.3" height="26.4" fill="#f3d1b4"/>
<rect x="536.62" y="734.65" width="27.3" height="26.4" fill="#eeedec"/>
<rect x="565.20" y="734.65" width="27.3" height="26.4" fill="#f2d8c3"/>
<rect x="593.78" y="734.65" width="27.3" height="26.4" fill="#eeedec"/>
<rect x="622.36" y="734.65" width="27.3" height="26.4" fill="#eeedec"/>
<rect x="650.94" y="734.65" width="27.3" height="26.4" fill="#eeedec"/>
<rect x="679.52" y="734.65" width="27.3" height="26.4" fill="#eeedec"/>
<rect x="708.10" y="734.65" width="27.3" height="26.4" fill="#eeedec"/>
<rect x="736.68" y="734.65" width="27.3" height="26.4" fill="#f4c9a2"/>
<rect x="765.26" y="734.65" width="27.3" height="26.4" fill="#eeedec"/>
<rect x="793.84" y="734.65" width="27.3" height="26.4" fill="#eeedec"/>
<text x="416.90" y="751.90" font-size="13.8" text-anchor="end" fill="#000">H3.3</text>
<text x="425.75" y="536.30" font-size="13.9" transform="rotate(-45 425.75 536.30)" fill="#000">Promoter</text>
<text x="458.83" y="536.30" font-size="13.9" transform="rotate(-45 458.83 536.30)" fill="#000">5' UTR</text>
<text x="488.21" y="536.30" font-size="13.9" transform="rotate(-45 488.21 536.30)" fill="#000">Exon</text>
<text x="516.79" y="536.30" font-size="13.9" transform="rotate(-45 516.79 536.30)" fill="#000">Intron</text>
<text x="547.07" y="536.30" font-size="13.9" transform="rotate(-45 547.07 536.30)" fill="#000">TTS</text>
<text x="572.15" y="536.30" font-size="13.9" transform="rotate(-45 572.15 536.30)" fill="#000">3' UTR</text>
<text x="600.83" y="536.30" font-size="13.9" transform="rotate(-45 600.83 536.30)" fill="#000">Enhancer</text>
<text x="630.71" y="536.30" font-size="13.9" transform="rotate(-45 630.71 536.30)" fill="#000">Intergenic</text>
<text x="659.69" y="536.30" font-size="13.9" transform="rotate(-45 659.69 536.30)" fill="#000">LINE</text>
<text x="689.27" y="536.30" font-size="13.9" transform="rotate(-45 689.27 536.30)" fill="#000">SINE</text>
<text x="719.25" y="536.30" font-size="13.9" transform="rotate(-45 719.25 536.30)" fill="#000">LTR</text>
<text x="747.83" y="536.30" font-size="13.9" transform="rotate(-45 747.83 536.30)" fill="#000">Simple repeat</text>
<text x="777.81" y="536.30" font-size="13.9" transform="rotate(-45 777.81 536.30)" fill="#000">Satellite</text>
<text x="804.99" y="536.30" font-size="13.9" transform="rotate(-45 804.99 536.30)" fill="#000">CpG island</text>
<text x="863.90" y="549.00" font-size="13.55" text-anchor="middle" fill="#000">Enrichment</text>
<text x="863.90" y="564.80" font-size="13.55" text-anchor="middle" fill="#000">ratio</text>
<rect x="842.0" y="580.8" width="17.4" height="135.4" fill="url(#gd)"/>
<rect x="858.8" y="580.6" width="1.4" height="135.8" fill="#000"/>
<rect x="859.5" y="580.55" width="3.0" height="1.3" fill="#000"/>
<text x="863.90" y="584.70" font-size="13.2" fill="#000">2.0</text>
<rect x="859.5" y="614.20" width="3.0" height="1.3" fill="#000"/>
<text x="863.90" y="618.80" font-size="13.2" fill="#000">1.5</text>
<rect x="859.5" y="647.85" width="3.0" height="1.3" fill="#000"/>
<text x="863.90" y="652.40" font-size="13.2" fill="#000">1.0</text>
<rect x="859.5" y="681.50" width="3.0" height="1.3" fill="#000"/>
<text x="863.90" y="686.40" font-size="13.2" fill="#000">0.5</text>
<rect x="859.5" y="715.15" width="3.0" height="1.3" fill="#000"/>
<text x="863.90" y="719.60" font-size="13.2" fill="#000">0.0</text>
</g>
<g id="pe">
<text x="1135.20" y="448.50" font-size="18.7" text-anchor="middle" fill="#000">Correlations of the change ratios</text>
<rect x="1007.30" y="534.20" width="30.27" height="30.20" fill="#e51f1b"/>
<rect x="1037.57" y="534.20" width="30.27" height="30.20" fill="#f5c2c3"/>
<rect x="1007.30" y="564.40" width="30.27" height="30.20" fill="#f5c2c3"/>
<rect x="1037.57" y="564.40" width="30.27" height="30.20" fill="#e51f1b"/>
<rect x="1067.84" y="594.60" width="30.27" height="30.20" fill="#e51f1b"/>
<rect x="1098.11" y="624.80" width="30.27" height="30.20" fill="#e51f1b"/>
<rect x="1128.38" y="624.80" width="30.27" height="30.20" fill="#f5c2c3"/>
<rect x="1188.92" y="624.80" width="30.27" height="30.20" fill="#f5c2c3"/>
<rect x="1098.11" y="655.00" width="30.27" height="30.20" fill="#f5c2c3"/>
<rect x="1128.38" y="655.00" width="30.27" height="30.20" fill="#e51f1b"/>
<rect x="1158.65" y="655.00" width="30.27" height="30.20" fill="#f5c2c3"/>
<rect x="1188.92" y="655.00" width="30.27" height="30.20" fill="#f5c2c3"/>
<rect x="1219.19" y="655.00" width="30.27" height="30.20" fill="#f5c2c3"/>
<rect x="1128.38" y="685.20" width="30.27" height="30.20" fill="#f5c2c3"/>
<rect x="1158.65" y="685.20" width="30.27" height="30.20" fill="#e51f1b"/>
<rect x="1188.92" y="685.20" width="30.27" height="30.20" fill="#f5c2c3"/>
<rect x="1219.19" y="685.20" width="30.27" height="30.20" fill="#f5c2c3"/>
<rect x="1098.11" y="715.40" width="30.27" height="30.20" fill="#f5c2c3"/>
<rect x="1128.38" y="715.40" width="30.27" height="30.20" fill="#f5c2c3"/>
<rect x="1158.65" y="715.40" width="30.27" height="30.20" fill="#f5c2c3"/>
<rect x="1188.92" y="715.40" width="30.27" height="30.20" fill="#e51f1b"/>
<rect x="1219.19" y="715.40" width="30.27" height="30.20" fill="#f5c2c3"/>
<rect x="1128.38" y="745.60" width="30.27" height="30.20" fill="#f5c2c3"/>
<rect x="1158.65" y="745.60" width="30.27" height="30.20" fill="#f5c2c3"/>
<rect x="1188.92" y="745.60" width="30.27" height="30.20" fill="#f5c2c3"/>
<rect x="1219.19" y="745.60" width="30.27" height="30.20" fill="#e51f1b"/>
<line x1="1007.30" y1="534.2" x2="1007.30" y2="775.80" stroke="#b9b9b9" stroke-width="1.4"/>
<line x1="1007.3" y1="534.20" x2="1249.46" y2="534.20" stroke="#b9b9b9" stroke-width="1.4"/>
<line x1="1037.57" y1="534.2" x2="1037.57" y2="775.80" stroke="#b9b9b9" stroke-width="1.4"/>
<line x1="1007.3" y1="564.40" x2="1249.46" y2="564.40" stroke="#b9b9b9" stroke-width="1.4"/>
<line x1="1067.84" y1="534.2" x2="1067.84" y2="775.80" stroke="#b9b9b9" stroke-width="1.4"/>
<line x1="1007.3" y1="594.60" x2="1249.46" y2="594.60" stroke="#b9b9b9" stroke-width="1.4"/>
<line x1="1098.11" y1="534.2" x2="1098.11" y2="775.80" stroke="#b9b9b9" stroke-width="1.4"/>
<line x1="1007.3" y1="624.80" x2="1249.46" y2="624.80" stroke="#b9b9b9" stroke-width="1.4"/>
<line x1="1128.38" y1="534.2" x2="1128.38" y2="775.80" stroke="#b9b9b9" stroke-width="1.4"/>
<line x1="1007.3" y1="655.00" x2="1249.46" y2="655.00" stroke="#b9b9b9" stroke-width="1.4"/>
<line x1="1158.65" y1="534.2" x2="1158.65" y2="775.80" stroke="#b9b9b9" stroke-width="1.4"/>
<line x1="1007.3" y1="685.20" x2="1249.46" y2="685.20" stroke="#b9b9b9" stroke-width="1.4"/>
<line x1="1188.92" y1="534.2" x2="1188.92" y2="775.80" stroke="#b9b9b9" stroke-width="1.4"/>
<line x1="1007.3" y1="715.40" x2="1249.46" y2="715.40" stroke="#b9b9b9" stroke-width="1.4"/>
<line x1="1219.19" y1="534.2" x2="1219.19" y2="775.80" stroke="#b9b9b9" stroke-width="1.4"/>
<line x1="1007.3" y1="745.60" x2="1249.46" y2="745.60" stroke="#b9b9b9" stroke-width="1.4"/>
<line x1="1249.46" y1="534.2" x2="1249.46" y2="775.80" stroke="#b9b9b9" stroke-width="1.4"/>
<line x1="1007.3" y1="775.80" x2="1249.46" y2="775.80" stroke="#b9b9b9" stroke-width="1.4"/>
<rect x="1007.30" y="534.20" width="60.54" height="60.40" fill="none" stroke="#000" stroke-width="2.6"/>
<rect x="1098.1" y="626.1" width="151.6" height="149.7" fill="none" stroke="#000" stroke-width="2.6"/>
<text x="1000.60" y="556.70" font-size="15.9" text-anchor="end" fill="#000">H3K27me3</text>
<text x="1020.80" y="532.00" font-size="16.1" transform="rotate(-45 1020.80 532.00)" fill="#000">H3K27me3</text>
<text x="1000.60" y="586.97" font-size="15.9" text-anchor="end" fill="#000">H3K9me3</text>
<text x="1051.10" y="532.00" font-size="16.1" transform="rotate(-45 1051.10 532.00)" fill="#000">H3K9me3</text>
<text x="1000.60" y="617.24" font-size="15.9" text-anchor="end" fill="#000">H3K36me3</text>
<text x="1081.40" y="532.00" font-size="16.1" transform="rotate(-45 1081.40 532.00)" fill="#000">H3K36me3</text>
<text x="1000.60" y="647.51" font-size="15.9" text-anchor="end" fill="#000">H3K4me3</text>
<text x="1111.70" y="532.00" font-size="16.1" transform="rotate(-45 1111.70 532.00)" fill="#000">H3K4me3</text>
<text x="1000.60" y="677.78" font-size="15.9" text-anchor="end" fill="#000">H3K27ac</text>
<text x="1142.00" y="532.00" font-size="16.1" transform="rotate(-45 1142.00 532.00)" fill="#000">H3K27ac</text>
<text x="1000.60" y="708.05" font-size="15.9" text-anchor="end" fill="#000">H3K4me1</text>
<text x="1172.30" y="532.00" font-size="16.1" transform="rotate(-45 1172.30 532.00)" fill="#000">H3K4me1</text>
<text x="1000.60" y="738.32" font-size="15.9" text-anchor="end" fill="#000">ATAC-seq</text>
<text x="1202.60" y="532.00" font-size="16.1" transform="rotate(-45 1202.60 532.00)" fill="#000">ATAC-seq</text>
<text x="1000.60" y="768.59" font-size="15.9" text-anchor="end" fill="#000">H3.3</text>
<text x="1232.90" y="532.00" font-size="16.1" transform="rotate(-45 1232.90 532.00)" fill="#000">H3.3</text>
<text x="1251.60" y="534.90" font-size="13.5" fill="#000">Correlation</text>
<text x="1251.60" y="550.80" font-size="13.5" fill="#000">coefficients</text>
<rect x="1275" y="560.70" width="8" height="21.10" fill="#e31a1c"/>
<rect x="1275" y="581.50" width="8" height="21.20" fill="#e8494b"/>
<rect x="1275" y="602.40" width="8" height="21.60" fill="#ee7e80"/>
<rect x="1275" y="623.70" width="8" height="21.60" fill="#f6c3c4"/>
<rect x="1275" y="645.00" width="8" height="21.70" fill="#ffffff"/>
<rect x="1275" y="666.40" width="8" height="21.70" fill="#ffffff"/>
<rect x="1275" y="687.80" width="8" height="21.80" fill="#cbc8e4"/>
<rect x="1275" y="709.30" width="8" height="21.80" fill="#8a8ac5"/>
<rect x="1275" y="730.80" width="8" height="21.60" fill="#4b5dab"/>
<rect x="1275" y="752.10" width="8" height="20.50" fill="#1f4c9f"/>
<rect x="1275" y="560.70" width="8" height="211.60" fill="none" stroke="#000" stroke-width="0.9"/>
<rect x="1274.55" y="560.00" width="8.9" height="1.3" fill="#000"/>
<rect x="1283" y="560.20" width="2.0" height="1" fill="#000"/>
<text x="1289.80" y="565.40" font-size="13.5" fill="#000">1</text>
<rect x="1283" y="581.00" width="2.0" height="1" fill="#000"/>
<text x="1289.80" y="586.43" font-size="13.5" fill="#000">0.8</text>
<rect x="1283" y="601.90" width="2.0" height="1" fill="#000"/>
<text x="1289.80" y="607.46" font-size="13.5" fill="#000">0.6</text>
<rect x="1283" y="623.20" width="2.0" height="1" fill="#000"/>
<text x="1289.80" y="628.49" font-size="13.5" fill="#000">0.4</text>
<rect x="1283" y="644.50" width="2.0" height="1" fill="#000"/>
<text x="1289.80" y="649.52" font-size="13.5" fill="#000">0.2</text>
<rect x="1283" y="665.90" width="2.0" height="1" fill="#000"/>
<text x="1289.80" y="670.55" font-size="13.5" fill="#000">0</text>
<rect x="1283" y="687.30" width="2.0" height="1" fill="#000"/>
<text x="1289.80" y="691.58" font-size="13.5" fill="#000">-0.2</text>
<rect x="1283" y="708.80" width="2.0" height="1" fill="#000"/>
<text x="1289.80" y="712.61" font-size="13.5" fill="#000">-0.4</text>
<rect x="1283" y="730.30" width="2.0" height="1" fill="#000"/>
<text x="1289.80" y="733.64" font-size="13.5" fill="#000">-0.6</text>
<rect x="1283" y="751.60" width="2.0" height="1" fill="#000"/>
<text x="1289.80" y="754.67" font-size="13.5" fill="#000">-0.8</text>
<rect x="1283" y="771.80" width="2.0" height="1" fill="#000"/>
<text x="1289.80" y="775.70" font-size="13.5" fill="#000">-1</text>
</g>
</svg>
</body>
</html>
